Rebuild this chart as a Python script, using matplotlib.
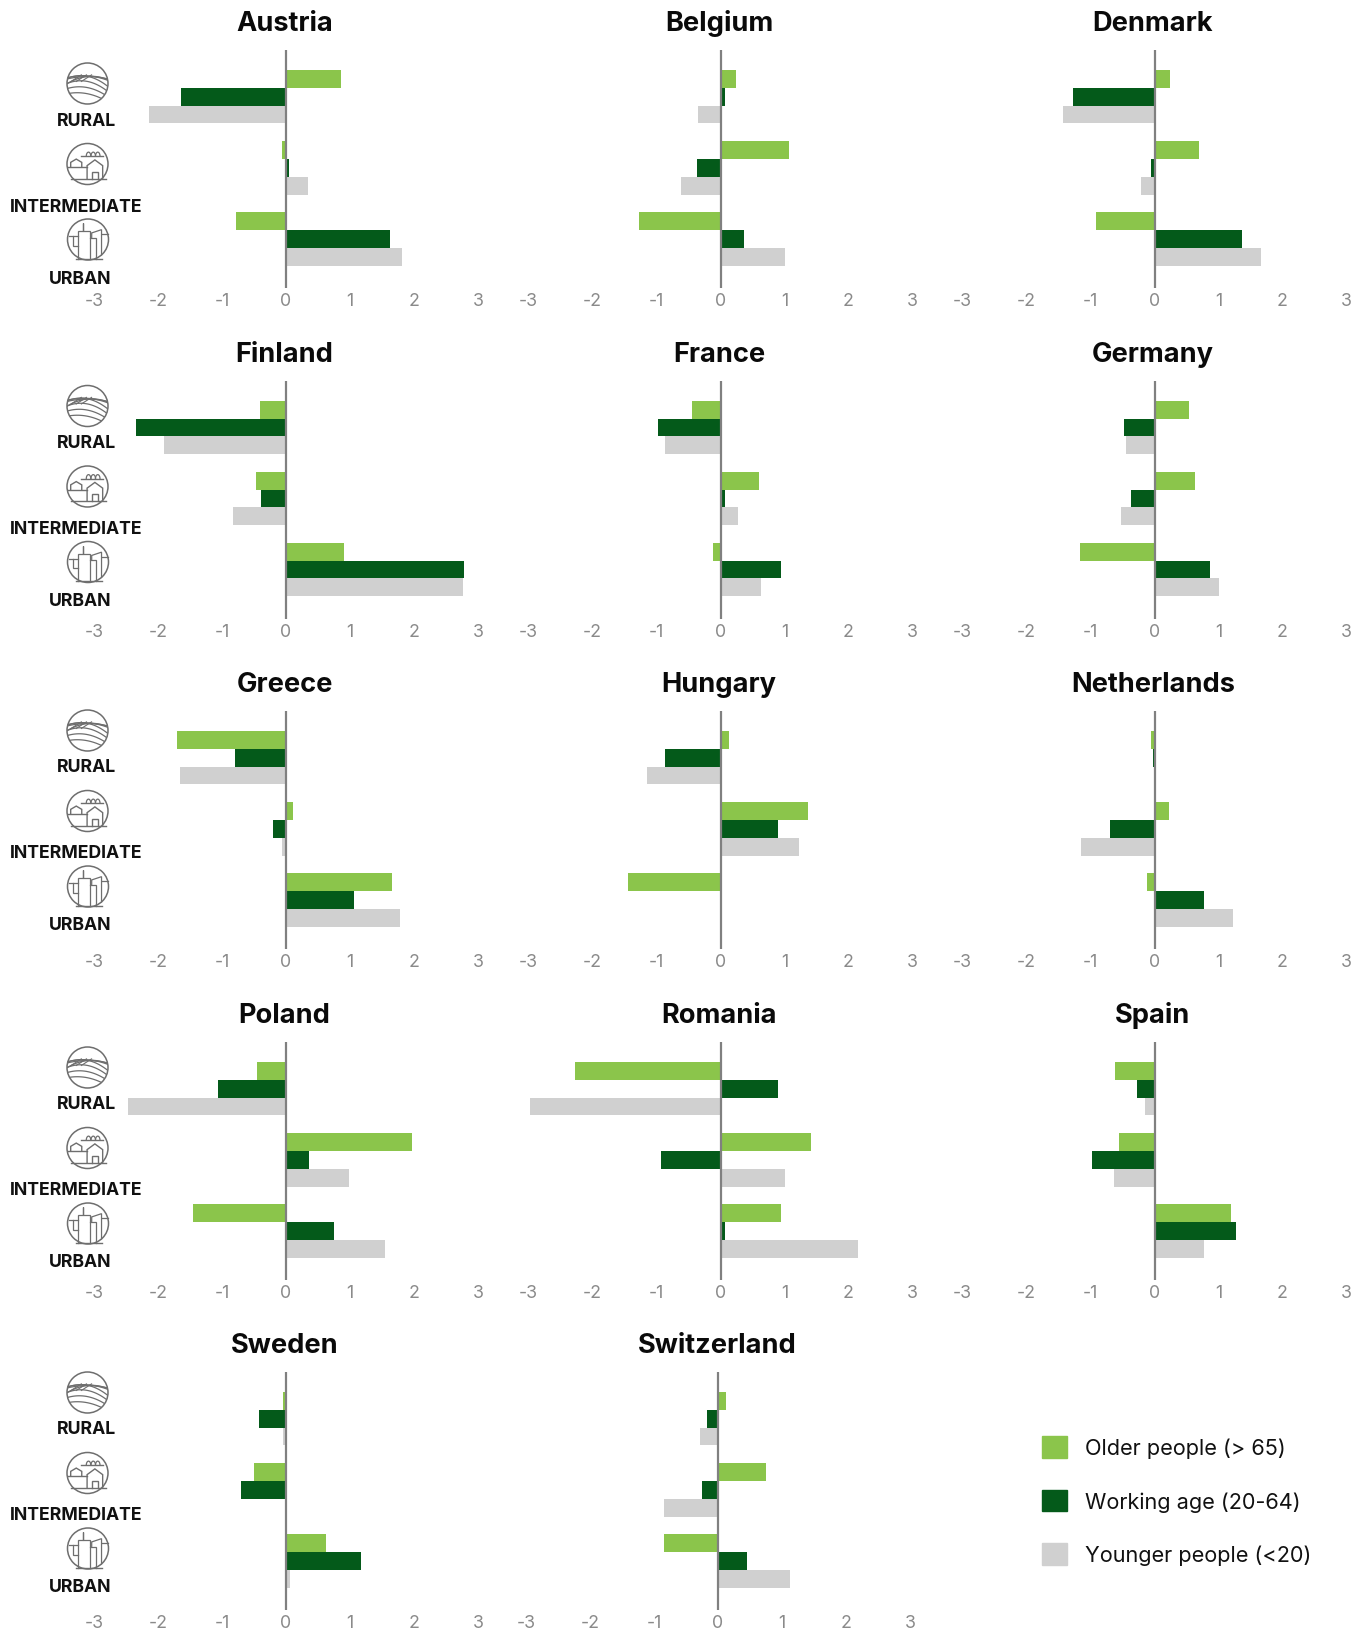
#!/usr/bin/env python3
import numpy as np
import matplotlib
matplotlib.use("Agg")
import matplotlib.pyplot as plt
from matplotlib.patches import Circle, Patch

W, H = 1369, 1631
GREEN, DARK, GREY = "#8bc54b", "#045a1a", "#d0d0d0"
ICON = "#6e6e6e"

countries = ["Austria", "Belgium", "Denmark", "Finland", "France", "Germany", "Greece",
             "Hungary", "Netherlands", "Poland", "Romania", "Spain", "Sweden", "Switzerland"]
regions = ["RURAL", "INTERMEDIATE", "URBAN"]
series_names = ["Older people (> 65)", "Working age (20-64)", "Younger people (<20)"]
ticks = [-3, -2, -1, 0, 1, 2, 3]

# rural, intermediate, urban
older = [[0.86, -0.06, -0.78], [0.24, 1.07, -1.27], [0.24, 0.70, -0.92],
         [-0.40, -0.47, 0.91], [-0.45, 0.60, -0.12], [0.54, 0.64, -1.16],
         [-1.71, 0.11, 1.65], [0.14, 1.37, -1.45], [-0.05, 0.22, -0.12],
         [-0.46, 1.97, -1.45], [-2.28, 1.41, 0.94], [-0.62, -0.55, 1.20],
         [-0.05, -0.50, 0.62], [0.12, 0.75, -0.85]]
working = [[-1.64, 0.05, 1.62], [0.07, -0.37, 0.37], [-1.28, -0.05, 1.36],
           [-2.35, -0.39, 2.78], [-0.98, 0.07, 0.95], [-0.48, -0.36, 0.87],
           [-0.80, -0.20, 1.07], [-0.87, 0.90, 0.02], [-0.02, -0.70, 0.77],
           [-1.06, 0.36, 0.75], [0.90, -0.93, 0.07], [-0.27, -0.98, 1.27],
           [-0.42, -0.70, 1.17], [-0.17, -0.25, 0.45]]
younger = [[-2.14, 0.35, 1.82], [-0.35, -0.61, 1.00], [-1.43, -0.21, 1.66],
           [-1.90, -0.83, 2.76], [-0.86, 0.27, 0.63], [-0.45, -0.53, 1.01],
           [-1.65, -0.07, 1.78], [-1.15, 1.23, 0.02], [0.01, -1.15, 1.23],
           [-2.47, 0.98, 1.55], [-2.98, 1.00, 2.15], [-0.15, -0.63, 0.78],
           [-0.05, 0.01, 0.07], [-0.28, -0.85, 1.12]]

col_zero = [286, 720.5, 1154.5]
row_top = [51, 381.5, 712, 1043, 1373]
icon_shift = [0, 322.5, 647, 984, 1309]
UNIT = 64
AX_H = 238


def rural_icon(ax, cx, cy, r=20.5):
    c = Circle((cx, cy), r, fc="white", ec=ICON, lw=1.1)
    ax.add_patch(c)
    t = np.linspace(-1, 1, 40)
    curves = [(t, -0.38 + 0.16 * (t + 0.2) ** 2), (t, -0.22 - 0.12 * (1 - t ** 2)),
              (t, 0.0 + 0.25 * (t - 0.2) ** 2 - 0.35), (t, 0.2 * t - 0.05 - 0.3 * (1 - t ** 2)),
              (t, 0.2 * t + 0.2 - 0.3 * (1 - t ** 2)), (t, 0.2 * t + 0.45 - 0.25 * (1 - t ** 2)),
              (t, 0.2 * t + 0.7 - 0.2 * (1 - t ** 2))]
    for x, y in curves:
        ln, = ax.plot(cx + r * x, cy + r * y, color=ICON, lw=0.9)
        ln.set_clip_path(c)
    for k in [-0.8, -0.55, -0.3]:
        ln, = ax.plot(cx + r * np.array([k, k + 0.5]), cy + r * np.array([-0.1, -0.42]), color=ICON, lw=0.8)
        ln.set_clip_path(c)


def poly(ax, cx, cy, r, xs, ys, lw=1.0):
    ax.plot(cx + r * np.array(xs), cy + r * np.array(ys), color=ICON, lw=lw, solid_joinstyle="miter")


def inter_icon(ax, cx, cy, r=20.5):
    ax.add_patch(Circle((cx, cy), r, fc="white", ec=ICON, lw=1.1))
    poly(ax, cx, cy, r, [-0.02, -0.02, 0.36, 0.74, 0.74], [0.72, 0.08, -0.2, 0.08, 0.72])
    poly(ax, cx, cy, r, [0.22, 0.22, 0.5, 0.5], [0.72, 0.38, 0.38, 0.72])
    poly(ax, cx, cy, r, [-0.82, -0.82, -0.55, -0.28, -0.28], [0.15, -0.08, -0.24, -0.08, 0.15])
    poly(ax, cx, cy, r, [-0.95, -0.02], [0.17, 0.17])
    poly(ax, cx, cy, r, [-0.8, 0.9], [0.72, 0.72])
    poly(ax, cx, cy, r, [-0.3, 0.75], [-0.38, -0.38])
    for k in [0.05, 0.28, 0.5]:
        t = np.linspace(0, np.pi, 12)
        ax.plot(cx + r * (k + 0.11 * np.cos(t)), cy + r * (-0.38 - 0.2 * np.sin(t)), color=ICON, lw=0.9)


def urban_icon(ax, cx, cy, r=20.5):
    ax.add_patch(Circle((cx, cy), r, fc="white", ec=ICON, lw=1.1))
    poly(ax, cx, cy, r, [-0.95, -0.47], [-0.16, -0.16], lw=0.9)
    poly(ax, cx, cy, r, [-0.72, -0.72, -0.47], [-0.16, 0.3, 0.3], lw=0.9)
    poly(ax, cx, cy, r, [-0.47, -0.47, -0.22, -0.22, -0.22, 0.1, 0.1],
         [0.95, -0.4, -0.4, -0.8, -0.4, -0.4, 0.95], lw=0.9)
    poly(ax, cx, cy, r, [0.1, 0.38, 0.38], [-0.08, -0.08, 0.95], lw=0.9)
    poly(ax, cx, cy, r, [0.18, 0.18, 0.66, 0.66], [-0.08, -0.32, -0.48, 0.75], lw=0.9)
    poly(ax, cx, cy, r, [0.66, 0.98], [-0.25, -0.25], lw=0.9)
    poly(ax, cx, cy, r, [-0.6, 0.7], [0.95, 0.95])


fig = plt.figure(figsize=(W / 100, H / 100), dpi=100)

# pixel-coordinate layer for icons and category labels
bg = fig.add_axes([0, 0, 1, 1], zorder=0)
bg.set_xlim(0, W)
bg.set_ylim(H, 0)
bg.axis("off")
for shift in icon_shift:
    rural_icon(bg, 87.5, 84.5 + shift)
    inter_icon(bg, 87.5, 165 + shift)
    urban_icon(bg, 88, 240.5 + shift)
    for name, x, y in zip(regions, [87, 76.5, 80], [121, 207, 279]):
        bg.text(x, y + shift, name, ha="center", va="center", fontsize=12.7,
                fontweight="bold", family="Inter", color="#111111")

y = np.arange(3)
h = 17.7 / 71
for i, country in enumerate(countries):
    r, c = divmod(i, 3)
    zero = 718 if country == "Switzerland" else col_zero[c]
    left = zero - 3 * UNIT
    ax = fig.add_axes([left / W, 1 - (row_top[r] + AX_H) / H, 6 * UNIT / W, AX_H / H], zorder=1)
    ax.patch.set_alpha(0)
    ax.barh(y - h, older[i], h, color=GREEN)
    ax.barh(y, working[i], h, color=DARK)
    ax.barh(y + h, younger[i], h, color=GREY)
    ax.axvline(0, color="#808080", lw=1.6, zorder=3)
    ax.set_xlim(-3, 3)
    ax.set_ylim(2.69, -0.66)
    ax.set_yticks([])
    ax.set_xticks(ticks)
    ax.set_xticklabels([str(t) for t in ticks], fontsize=12.8, family="Inter", color="#8a8a8a")
    ax.tick_params(axis="x", length=0, pad=3)
    for s in ax.spines.values():
        s.set_visible(False)
    fig.text((zero - 1.5 if country != "Switzerland" else 717) / W, 1 - (row_top[r] - 20) / H, country,
             ha="center", va="baseline", fontsize=19.6, fontweight="bold", family="Inter", color="#0a0a0a")

handles = [Patch(color=GREEN), Patch(color=DARK), Patch(color=GREY)]
fig.legend(handles, series_names, loc="upper left", bbox_to_anchor=(1033.5 / W, 1 - 1428.5 / H),
           frameon=False, prop={"family": "Inter", "size": 15.6}, handlelength=1.15, handleheight=1.15,
           handletextpad=0.84, labelspacing=1.45, labelcolor="#111111", borderpad=0.4, borderaxespad=0)

fig.savefig("out.png", dpi=100)
